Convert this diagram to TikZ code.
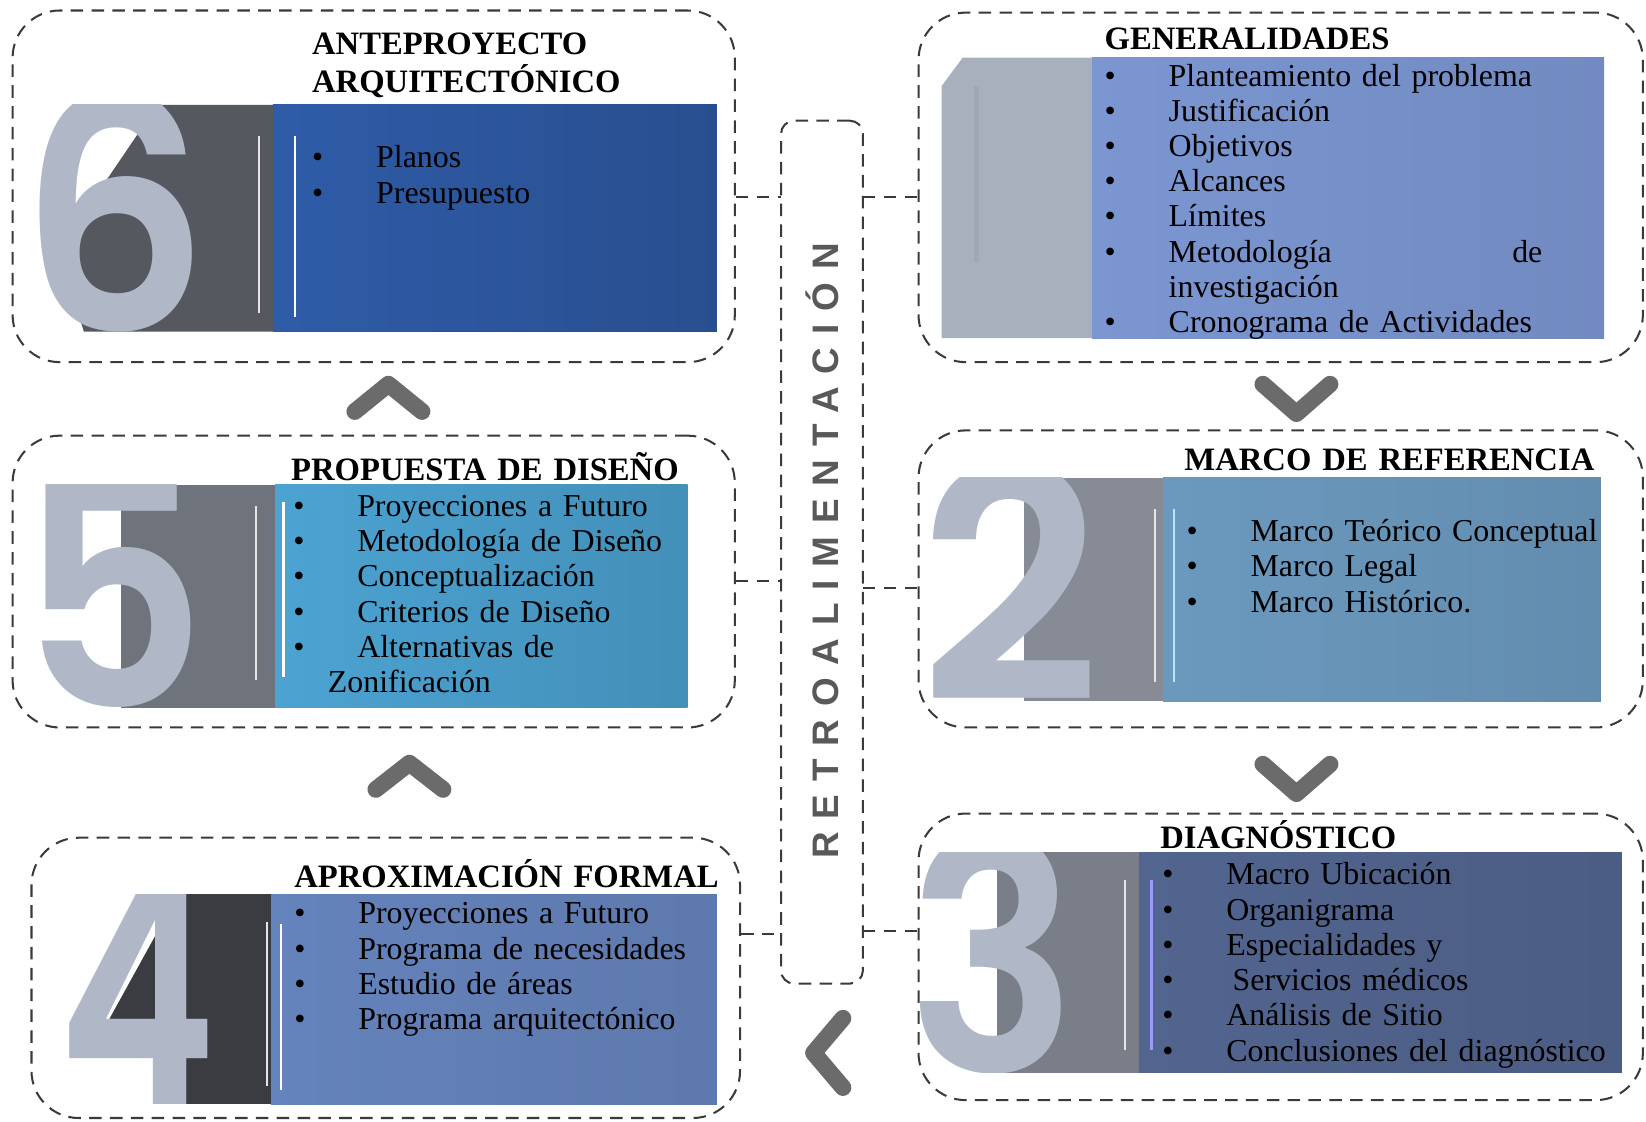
\documentclass[tikz,border=0pt]{standalone}
\usepackage{fontspec}
\usepackage{graphicx}
\setmainfont{Liberation Serif}
\newfontfamily\digitfont{Poppins SemiBold}
\newfontfamily\spacedfont[LetterSpace=35]{Liberation Sans}
\usetikzlibrary{positioning, fit}

\definecolor{edge}{HTML}{3A3A3A}
\definecolor{chevron}{HTML}{6B6B6B}
\definecolor{numeral}{HTML}{B0B8C8}
\definecolor{tilesix}{HTML}{55585F}
\definecolor{tilefive}{HTML}{6F737C}
\definecolor{tilefour}{HTML}{3A3C42}
\definecolor{tilethree}{HTML}{7A7E88}
\definecolor{tiletwo}{HTML}{878B95}
\definecolor{tileone}{HTML}{A8AFBD}
\definecolor{paneone}{HTML}{7B96D1}
\definecolor{panetwo}{HTML}{6B99BE}
\definecolor{panethree}{HTML}{52658F}
\definecolor{panefour}{HTML}{6583BC}
\definecolor{panefive}{HTML}{4CA3D2}
\definecolor{panesix}{HTML}{2F5CA8}

\newcommand{\bul}{\makebox[1.22cm][l]{\textbullet}}

\begin{document}
\begin{tikzpicture}[x=0.02cm, y=-0.02cm]
\tikzstyle{stagebox}=[draw=edge, line width=1.1pt, dash pattern=on 6.8pt off 4.5pt, rounded corners=0.9cm, inner sep=0]
\tikzstyle{feedbox}=[stagebox, rounded corners=0.25cm]
\tikzstyle{link}=[draw=edge, line width=1.1pt, dash pattern=on 6.8pt off 4.5pt]
\tikzstyle{heading}=[font=\bfseries\fontsize{17.7}{20.4}\selectfont, inner sep=0, align=left, text width=9cm, anchor=base west]
\tikzstyle{items}=[font=\fontsize{17.3}{19.1}\selectfont, inner sep=0, align=left, text width=10cm, anchor=base west]
\tikzstyle{digit}=[font=\digitfont\fontsize{175}{175}\selectfont, text=numeral, inner sep=0, anchor=base west]
\tikzstyle{chev}=[draw=chevron, line width=0.32cm, line cap=round, line join=round]

\useasboundingbox (0,0) rectangle (1568,1068);

% colour panels and number tiles
\shade[left color=panesix, right color=panesix!85!black] (260,100) rectangle (683,316);
\shade[left color=paneone, right color=paneone!92!black] (1040,55) rectangle (1528,322);
\shade[left color=panetwo, right color=panetwo!92!black] (1108,455) rectangle (1525,668);
\shade[left color=panethree, right color=panethree!92!black] (1085,812) rectangle (1545,1022);
\shade[left color=panefour, right color=panefour!92!black] (258,852) rectangle (683,1052);
\shade[left color=panefive, right color=panefive!88!black] (262,462) rectangle (655,674);

\begin{scope}
  \clip (0,100) rectangle (260,316);
  \fill[tilesix] (150,100) -- (260,100) -- (260,316) -- (80,316) -- (55,240) -- cycle;
  \node[digit] (n6) at (18,316) {\scalebox{0.92}[1]{6}};
\end{scope}
\begin{scope}
  \clip (0,462) rectangle (262,674);
  \fill[tilefive] (115,462) rectangle (262,674);
  \node[digit] (n5) at (18,674) {\scalebox{0.9}[1]{5}};
\end{scope}
\begin{scope}
  \clip (0,852) rectangle (258,1052);
  \fill[tilefour] (160,852) rectangle (258,1052);
  \fill[tilefour] (88,1000) -- (168,855) -- (168,1000) -- cycle;
  \node[digit] (n4) at (55,1052) {\scalebox{0.74}[1]{4}};
\end{scope}
\begin{scope}
  \clip (860,812) rectangle (1085,1022);
  \fill[tilethree] (950,812) rectangle (1085,1022);
  \node[digit] (n3) at (864,1022) {\scalebox{0.88}[1]{3}};
\end{scope}
\begin{scope}
  \clip (860,455) rectangle (1108,668);
  \fill[tiletwo] (975,455) rectangle (1108,668);
  \node[digit] (n2) at (876,668) {\scalebox{0.98}[1]{2}};
\end{scope}
\fill[tileone] (897,322) -- (897,82) -- (917,55) -- (1040,55) -- (1040,322) -- cycle;
\fill[tileone!95!black] (928,82) rectangle (933,250);

% thin rules
\draw[white!80!gray, line width=1pt] (247,130) -- (247,298);
\draw[white, line width=1.2pt] (281,130) -- (281,302);
\draw[white!80!gray, line width=1pt] (244,482) -- (244,648);
\draw[white, line width=1.2pt] (270,478) -- (270,645);
\draw[white!80!gray, line width=1pt] (254,878) -- (254,1035);
\draw[white, line width=1.2pt] (268,880) -- (268,1038);
\draw[white!80!gray, line width=1pt] (1100,485) -- (1100,650);
\draw[cyan!30!white, line width=1.2pt] (1118,485) -- (1118,650);
\draw[white!80!gray, line width=1pt] (1072,838) -- (1072,1000);
\draw[blue!40!white, line width=1.2pt] (1097,838) -- (1097,1000);

% stages
\node[stagebox, fit={(12,10) (700,345)}] (b6) {};
\node[stagebox, fit={(875,12) (1565,345)}] (b1) {};
\node[stagebox, fit={(12,415) (700,693)}] (b5) {};
\node[stagebox, fit={(875,410) (1565,693)}] (b2) {};
\node[stagebox, fit={(30,798) (705,1065)}] (b4) {};
\node[stagebox, fit={(875,775) (1565,1048)}] (b3) {};
\node[feedbox, fit={(744,115) (822,937)}] (fb) {};

\node[rotate=90, font=\spacedfont\bfseries\fontsize{20}{20}\selectfont, text=black!65, inner sep=0] (fbtext) at (783,525) {RETROALIMENTACIÓN};

% titles
\node[heading] (h6) at (297,52) {ANTEPROYECTO\\ARQUITECTÓNICO};
\node[heading] (h1) at (1052,47) {GENERALIDADES};
\node[heading] (h2) at (1128,448) {MARCO DE REFERENCIA};
\node[heading] (h3) at (1105,808) {DIAGNÓSTICO};
\node[heading] (h4) at (280,845) {APROXIMACIÓN FORMAL};
\node[heading] (h5) at (277,458) {PROPUESTA DE DISEÑO};

% lists
\node[items] (t6) at (297,160) {\bul Planos\\\bul Presupuesto};
\node[items] (t1) at (1052,82) {\bul Planteamiento del problema\\\bul Justificación\\\bul Objetivos\\\bul Alcances\\\bul Límites\\\bul\makebox[7.12cm][l]{Metodología\hfill de}\\\hspace*{1.22cm}investigación\\\bul Cronograma de Actividades};
\node[items] (t2) at (1130,516) {\bul Marco Teórico Conceptual\\\bul Marco Legal\\\bul Marco Histórico.};
\node[items] (t3) at (1107,843) {\bul Macro Ubicación\\\bul Organigrama\\\bul Especialidades y\\\bul\hspace*{0.12cm}Servicios médicos\\\bul Análisis de Sitio\\\bul Conclusiones del diagnóstico};
\node[items] (t4) at (280,880) {\bul Proyecciones a Futuro\\\bul Programa de necesidades\\\bul Estudio de áreas\\\bul Programa arquitectónico};
\node[items] (t5) at (279,492) {\bul Proyecciones a Futuro\\\bul Metodología de Diseño\\\bul Conceptualización\\\bul Criterios de Diseño\\\bul Alternativas de\\\hspace*{0.66cm}Zonificación};

% links to feedback
\coordinate (l6) at (744,188);
\coordinate (r1) at (822,188);
\coordinate (l5) at (744,553);
\coordinate (r2) at (822,560);
\coordinate (l4) at (744,890);
\coordinate (r3) at (822,887);
\draw[link] (b6.east |- l6) -- (l6);
\draw[link] (r1) -- (b1.west |- r1);
\draw[link] (b5.east |- l5) -- (l5);
\draw[link] (r2) -- (b2.west |- r2);
\draw[link] (b4.east |- l4) -- (l4);
\draw[link] (r3) -- (b3.west |- r3);

% chevrons
\draw[chev] (338,392) -- (370,366) -- (402,392);
\draw[chev] (358,752) -- (390,727) -- (422,752);
\draw[chev] (1203,366) -- (1235,394) -- (1267,366);
\draw[chev] (1203,728) -- (1235,756) -- (1267,728);
\draw[chev] (803,970) -- (775,1003) -- (803,1036);
\end{tikzpicture}
\end{document}
